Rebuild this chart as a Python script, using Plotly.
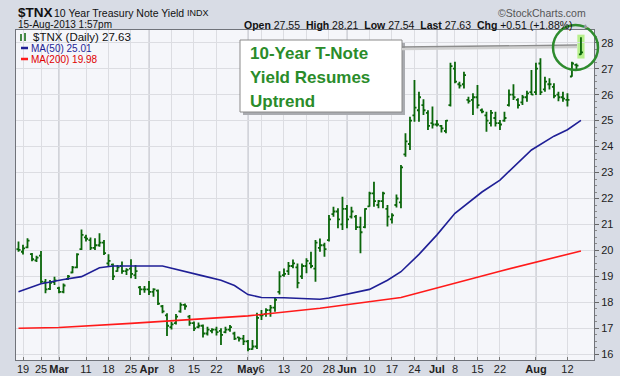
import plotly.graph_objects as go

# ---------------- data ----------------
month_days = [
    ("02", [15, 19, 20, 21, 22, 25, 26, 27, 28]),
    ("03", [1, 4, 5, 6, 7, 8, 11, 12, 13, 14, 15, 18, 19, 20, 21, 22, 25, 26, 27, 28]),
    ("04", [1, 2, 3, 4, 5, 8, 9, 10, 11, 12, 15, 16, 17, 18, 19, 22, 23, 24, 25, 26, 29, 30]),
    ("05", [1, 2, 3, 6, 7, 8, 9, 10, 13, 14, 15, 16, 17, 20, 21, 22, 23, 24, 28, 29, 30, 31]),
    ("06", [3, 4, 5, 6, 7, 10, 11, 12, 13, 14, 17, 18, 19, 20, 21, 24, 25, 26, 27, 28]),
    ("07", [1, 2, 3, 5, 8, 9, 10, 11, 12, 15, 16, 17, 18, 19, 22, 23, 24, 25, 26, 29, 30, 31]),
    ("08", [1, 2, 5, 6, 7, 8, 9, 12, 13, 14, 15]),
]
dates = [f"2013-{m}-{d:02d}" for m, ds in month_days for d in ds]

opens = [20.05, 19.95, 20.12, 19.86, 19.62, 19.80, 18.78, 18.52, 18.78, 18.55,
         18.40, 18.90, 19.15, 19.35, 20.05, 20.50, 20.40, 20.10, 20.20, 20.30,
         19.50, 19.45, 19.20, 19.40, 19.20, 19.30, 19.05, 18.58, 18.50, 18.50,
         18.40, 18.45, 17.85, 17.50, 17.05, 17.20, 17.65, 17.90, 17.45, 17.20,
         17.05, 17.10, 16.80, 16.90, 16.95, 16.90, 16.85, 16.95, 16.80, 16.65,
         16.60, 16.50, 16.20, 16.30, 17.50, 17.55, 17.70, 17.80, 18.40, 19.05,
         19.20, 19.40, 19.35, 19.00, 19.40, 19.50, 19.30, 20.10, 20.20, 20.40,
         21.40, 21.50, 21.00, 21.60, 21.30, 21.30, 20.90, 20.90, 21.70, 22.20,
         21.75, 21.90, 21.60, 21.20, 21.75, 21.85, 23.70, 24.10, 25.20, 25.40,
         25.60, 25.30, 24.90, 24.85, 24.80, 24.60, 25.60, 27.00, 26.40, 26.40,
         25.80, 25.80, 25.90, 25.40, 25.20, 24.90, 25.10, 24.90, 25.00, 25.60,
         26.00, 25.80, 25.70, 25.90, 26.10, 26.10, 27.20, 26.20, 26.40, 26.30,
         26.00, 25.90, 25.80, 26.70, 27.15, 27.55]
highs = [20.34, 20.22, 20.47, 19.90, 19.80, 19.98, 18.90, 18.86, 18.99, 18.60,
         18.73, 19.05, 19.40, 19.89, 20.81, 20.60, 20.50, 20.47, 20.66, 20.40,
         19.85, 19.50, 19.44, 19.57, 19.31, 19.66, 19.44, 18.63, 18.63, 18.82,
         18.54, 18.50, 17.90, 17.58, 17.25, 17.55, 17.99, 17.96, 17.51, 17.26,
         17.22, 17.15, 17.06, 17.00, 17.06, 17.00, 17.06, 17.13, 16.87, 16.68,
         16.74, 16.55, 16.55, 17.60, 17.71, 17.77, 17.90, 18.20, 19.20, 19.30,
         19.55, 19.65, 19.50, 19.50, 19.70, 19.95, 20.40, 20.46, 20.30, 21.36,
         21.68, 21.62, 22.07, 21.75, 21.68, 21.36, 21.30, 21.62, 22.26, 22.65,
         21.94, 22.26, 21.75, 21.43, 22.15, 23.29, 24.51, 25.15, 26.56, 26.11,
         25.82, 25.40, 25.54, 25.02, 24.83, 25.02, 27.23, 27.27, 26.50, 26.88,
         25.92, 26.05, 26.37, 25.47, 25.34, 25.41, 25.34, 25.02, 25.34, 26.20,
         26.40, 25.86, 25.99, 26.15, 26.95, 27.23, 27.40, 26.69, 26.63, 26.44,
         26.11, 26.11, 26.05, 27.27, 27.20, 28.21]
lows = [19.95, 19.84, 20.08, 19.58, 19.55, 18.73, 18.35, 18.48, 18.67, 18.35,
        18.35, 18.86, 19.12, 19.31, 20.02, 20.34, 20.02, 20.02, 20.14, 19.82,
        19.40, 18.86, 19.18, 19.10, 19.05, 18.93, 18.90, 18.28, 18.37, 18.28,
        18.22, 17.90, 17.58, 16.70, 16.95, 17.15, 17.60, 17.72, 17.10, 16.90,
        17.00, 16.65, 16.72, 16.81, 16.72, 16.36, 16.81, 16.87, 16.55, 16.49,
        16.36, 16.12, 16.17, 16.20, 17.32, 17.45, 17.45, 17.64, 18.30, 18.99,
        19.05, 19.31, 18.54, 18.90, 19.12, 19.31, 18.79, 19.95, 19.76, 20.34,
        21.30, 20.85, 20.79, 20.85, 21.23, 20.79, 19.89, 20.85, 21.68, 21.68,
        21.62, 21.62, 20.92, 21.04, 21.65, 21.62, 23.61, 23.87, 24.96, 24.96,
        25.22, 24.64, 24.70, 24.77, 24.54, 24.51, 25.54, 26.44, 26.24, 26.24,
        25.66, 25.22, 25.47, 25.28, 24.57, 24.77, 24.77, 24.64, 24.96, 25.54,
        25.79, 25.47, 25.60, 25.73, 25.99, 25.99, 25.99, 26.11, 26.20, 25.86,
        25.75, 25.73, 25.54, 26.69, 26.95, 27.54]
closes = [20.02, 20.08, 20.38, 19.66, 19.72, 18.80, 18.50, 18.75, 18.85, 18.40,
          18.65, 19.00, 19.35, 19.85, 20.60, 20.45, 20.10, 20.20, 20.30, 19.90,
          19.60, 19.00, 19.35, 19.20, 19.25, 19.10, 19.20, 18.50, 18.50, 18.40,
          18.50, 17.95, 17.65, 17.10, 17.15, 17.45, 17.90, 17.85, 17.20, 17.00,
          17.10, 16.80, 16.95, 16.95, 16.85, 16.75, 16.95, 17.05, 16.60, 16.60,
          16.50, 16.20, 16.30, 17.40, 17.50, 17.70, 17.80, 18.10, 19.00, 19.10,
          19.40, 19.50, 18.75, 19.40, 19.60, 19.40, 20.30, 20.20, 20.05, 21.20,
          21.50, 21.20, 21.60, 21.20, 21.50, 20.90, 20.70, 21.60, 22.20, 21.90,
          21.90, 22.20, 21.30, 21.35, 22.00, 23.20, 24.20, 25.00, 25.50, 25.90,
          25.40, 24.80, 24.85, 24.85, 24.70, 25.00, 27.10, 26.50, 26.35, 26.75,
          25.75, 25.90, 25.60, 25.35, 25.00, 25.30, 24.90, 24.85, 25.10, 26.00,
          25.90, 25.60, 25.90, 26.05, 26.00, 27.00, 26.10, 26.50, 26.40, 25.95,
          25.90, 25.85, 25.80, 27.20, 27.12, 27.63]

ma50_dates = ["2013-02-15", "2013-02-25", "2013-03-04", "2013-03-08", "2013-03-14",
              "2013-03-19", "2013-04-04", "2013-04-11", "2013-04-17", "2013-04-23",
              "2013-04-26", "2013-05-01", "2013-05-06", "2013-05-13", "2013-05-17",
              "2013-05-23", "2013-05-28", "2013-06-04", "2013-06-10", "2013-06-14",
              "2013-06-19", "2013-06-25", "2013-07-01", "2013-07-08", "2013-07-16",
              "2013-07-22", "2013-07-31", "2013-08-07", "2013-08-12", "2013-08-15"]
ma50_vals = [18.41, 18.72, 18.88, 18.99, 19.33, 19.40, 19.40, 19.20, 19.02, 18.85,
             18.65, 18.30, 18.19, 18.18, 18.15, 18.12, 18.17, 18.35, 18.50, 18.85,
             19.18, 19.85, 20.60, 21.43, 22.25, 22.71, 23.87, 24.40, 24.65, 25.01]

ma200_dates = ["2013-02-15", "2013-03-01", "2013-03-25", "2013-04-16", "2013-05-01",
               "2013-05-23", "2013-06-19", "2013-07-22", "2013-08-15"]
ma200_vals = [17.00, 17.03, 17.19, 17.35, 17.48, 17.77, 18.19, 19.20, 19.98]

tick_dates = ["2013-02-19", "2013-02-25", "2013-03-01", "2013-03-11", "2013-03-18",
              "2013-03-25", "2013-04-01", "2013-04-08", "2013-04-15", "2013-04-22",
              "2013-05-01", "2013-05-06", "2013-05-13", "2013-05-20", "2013-05-28",
              "2013-06-03", "2013-06-10", "2013-06-17", "2013-06-24", "2013-07-01",
              "2013-07-08", "2013-07-15", "2013-07-22", "2013-08-01", "2013-08-12"]
tick_labels = ["19", "25", "Mar", "11", "18", "25", "Apr", "8", "15", "22", "May", "6",
               "13", "20", "28", "Jun", "10", "17", "24", "Jul", "8", "15", "22", "Aug", "12"]
month_labels = {"Mar", "Apr", "May", "Jun", "Jul", "Aug"}
y_ticks = list(range(16, 29))

# ---------------- style ----------------
W, H = 620, 376
L, R, T, B = 16, 594, 30, 360
BAR = "#0a660a"
MA50C = "#1f1f96"
MA200C = "#ff1a1a"
TXTG = "#2a8c2a"
FONT = "Liberation Sans, Arial, sans-serif"


def px(x):
    return (x - L) / (R - L)


def py(y):
    return (B - y) / (B - T)


fig = go.Figure()
fig.add_trace(go.Ohlc(
    x=dates, open=opens, high=highs, low=lows, close=closes,
    increasing=dict(line=dict(color=BAR, width=1.8)),
    decreasing=dict(line=dict(color=BAR, width=1.8)),
    tickwidth=0.45, showlegend=False, hoverinfo="skip"))
fig.add_trace(go.Scatter(x=ma50_dates, y=ma50_vals, mode="lines",
                         line=dict(color=MA50C, width=1.6), showlegend=False, hoverinfo="skip"))
fig.add_trace(go.Scatter(x=ma200_dates, y=ma200_vals, mode="lines",
                         line=dict(color=MA200C, width=1.6), showlegend=False, hoverinfo="skip"))

shapes = []
# darker month gridlines
for d, lab in zip(tick_dates, tick_labels):
    if lab in month_labels:
        shapes.append(dict(type="line", xref="x", yref="paper", x0=d, x1=d, y0=0, y1=1,
                           line=dict(color="#b9bcc4", width=1.2), layer="below"))

# highlight of the last bar
shapes.append(dict(type="rect", xref="x", yref="y",
                   x0=len(dates) - 1.8, x1=len(dates) - 0.2,
                   y0=lows[-1] - 0.15, y1=highs[-1] + 0.1,
                   fillcolor="#b6f08c", line=dict(width=0), layer="below"))

# annotation box with shadow
bx0, by0, bx1, by1 = 240, 40, 402, 112
shapes.append(dict(type="rect", xref="paper", yref="paper",
                   x0=px(bx0 + 3), x1=px(bx1 + 3), y0=py(by1 + 3), y1=py(by0 + 3),
                   fillcolor="#a9abb0", line=dict(width=0)))
shapes.append(dict(type="rect", xref="paper", yref="paper",
                   x0=px(bx0), x1=px(bx1), y0=py(by1), y1=py(by0),
                   fillcolor="white", line=dict(color="#8a8a8a", width=1)))
# connector line (with soft shadow)
shapes.append(dict(type="line", xref="paper", yref="paper",
                   x0=px(bx1), y0=py(by0 + 9), x1=px(577), y1=py(47),
                   line=dict(color="#d0d0d0", width=2.5)))
shapes.append(dict(type="line", xref="paper", yref="paper",
                   x0=px(bx1), y0=py(by0 + 7), x1=px(577), y1=py(45),
                   line=dict(color="#8c8c8c", width=1.3)))
# circle around the last bars
shapes.append(dict(type="circle", xref="paper", yref="paper",
                   x0=px(553), x1=px(598), y0=py(70), y1=py(25),
                   line=dict(color="#2e8b2e", width=2.5)))
# legend swatches
shapes.append(dict(type="line", xref="paper", yref="paper", x0=px(21), x1=px(28),
                   y0=py(48), y1=py(48), line=dict(color=MA50C, width=2.5)))
shapes.append(dict(type="line", xref="paper", yref="paper", x0=px(21), x1=px(28),
                   y0=py(59), y1=py(59), line=dict(color=MA200C, width=2.5)))
for xx, ya, yb in [(21, 34, 41), (25, 33, 41)]:
    shapes.append(dict(type="line", xref="paper", yref="paper", x0=px(xx), x1=px(xx),
                       y0=py(yb), y1=py(ya), line=dict(color=BAR, width=1.5)))

ann = []


def text(x, y, s, size, color="#111111", anchor="left", bold=False):
    ann.append(dict(xref="paper", yref="paper", x=px(x), y=py(y), text=(f"<b>{s}</b>" if bold else s),
                    showarrow=False, xanchor=anchor, yanchor="middle",
                    font=dict(family=FONT, size=size, color=color)))


# header
text(16, 12, "$TNX", 13.5, bold=True)
text(52, 12.5, "10 Year Treasury Note Yield", 10.5)
text(185, 13, "INDX", 9)
text(588, 12.5, "©StockCharts.com", 10.5, color="#555555", anchor="right")
text(16, 24.5, "15-Aug-2013 1:57pm", 10)
text(575, 24.5, f"<b>Open</b> {opens[-1]:.2f}  <b>High</b> {highs[-1]:.2f}  <b>Low</b> {lows[-1]:.2f}  "
     f"<b>Last</b> {closes[-1]:.2f}  <b>Chg</b> +0.51 (+1.88%)", 10.5, anchor="right")
text(580, 26, "▲", 7, color="#9a9a9a")
# legend
text(31, 37, f"$TNX (Daily) {closes[-1]:.2f}", 11.5, color="#111111")
text(29, 48, f"MA(50) {ma50_vals[-1]:.2f}", 10, color=MA50C)
text(29, 59, f"MA(200) {ma200_vals[-1]:.2f}", 10, color="#e00000")
# callout text
text(248, 53, "10-Year T-Note", 17, color=TXTG, bold=True)
text(248, 77, "Yield Resumes", 17, color=TXTG, bold=True)
text(248, 101, "Uptrend", 17, color=TXTG, bold=True)

fig.update_layout(
    width=W, height=H,
    margin=dict(l=L, r=W - R, t=T, b=H - B, pad=0, autoexpand=False),
    paper_bgcolor="#d8dce5", plot_bgcolor="#f5f6fa",
    font=dict(family=FONT, size=11, color="#222222"),
    shapes=shapes, annotations=ann, showlegend=False,
    xaxis=dict(type="category", categoryorder="array", categoryarray=dates,
               range=[-0.556, 127.9], tickvals=tick_dates,
               ticktext=[f"<b>{t}</b>" if t in month_labels else t for t in tick_labels],
               tickfont=dict(size=11, color="#222222"), tickangle=0, automargin=False,
               showgrid=True, gridcolor="#dcdde2", gridwidth=1,
               ticks="inside", ticklen=3, tickcolor="#777777", ticklabelstandoff=-1,
               showline=True, mirror=True, linecolor="#70737a", linewidth=1,
               rangeslider=dict(visible=False), fixedrange=True, zeroline=False),
    yaxis=dict(side="right", range=[15.78, 28.49], tickvals=y_ticks,
               tickfont=dict(size=11, color="#222222"), automargin=False,
               showgrid=True, gridcolor="#dcdde2", gridwidth=1,
               ticks="outside", ticklen=4, tickcolor="#666666",
               minor=dict(ticks="outside", ticklen=2, dtick=0.25, tickcolor="#888888", showgrid=False),
               showline=True, mirror=True, linecolor="#70737a", linewidth=1,
               zeroline=False, fixedrange=True),
)

fig.write_html("out.html", config={"displayModeBar": False, "staticPlot": True},
               post_script="document.body.style.margin='0';document.body.style.overflow='hidden';")
